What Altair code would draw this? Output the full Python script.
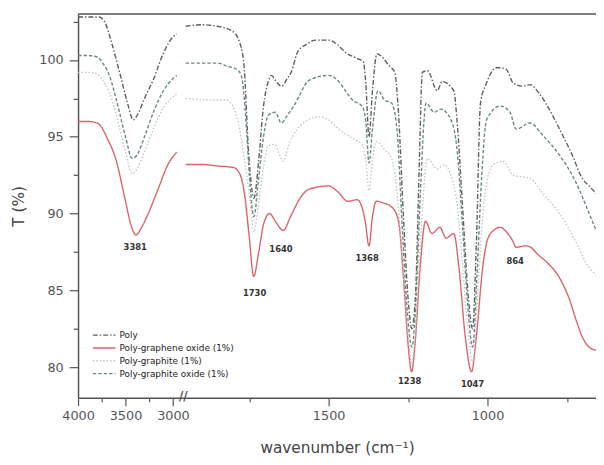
import altair as alt
import pandas as pd

# ---------------- data ----------------
SERIES = ["Poly", "Poly-graphene oxide (1%)", "Poly-graphite (1%)", "Poly-graphite oxide (1%)"]
COLORS = ["#5e5e5e", "#d9646f", "#c4c4c4", "#6a8a7e"]
DASHES = [[5, 2, 1.5, 2], [1, 0], [1.5, 2], [3.5, 2]]

# left section (4000 - 2960 cm-1)
POLY_L_WN = [4000, 3900, 3780, 3720, 3650, 3550, 3470, 3420, 3360, 3300, 3208, 3104, 3000, 2960]
POLY_L_T = [102.8, 102.8, 102.8, 102.5, 101.2, 98.9, 97.0, 96.1, 96.6, 97.5, 98.7, 100.4, 101.5, 101.7]
GO_L_WN = [4000, 3900, 3800, 3750, 3700, 3600, 3500, 3440, 3390, 3340, 3260, 3156, 3052, 2960]
GO_L_T = [96.0, 96.0, 95.9, 95.6, 95.0, 93.5, 90.8, 89.2, 88.6, 89.0, 90.0, 91.6, 93.2, 94.0]
GT_L_WN = [4000, 3900, 3800, 3740, 3670, 3600, 3500, 3430, 3380, 3300, 3200, 3100, 3000, 2960]
GT_L_T = [99.2, 99.2, 99.1, 98.7, 97.9, 96.5, 94.0, 92.6, 92.9, 94.0, 95.6, 96.9, 97.6, 97.8]
GTO_L_WN = [4000, 3900, 3800, 3740, 3670, 3600, 3500, 3430, 3380, 3300, 3200, 3100, 3000, 2960]
GTO_L_T = [100.3, 100.3, 100.2, 99.8, 99.0, 97.5, 95.0, 93.6, 93.8, 95.0, 96.7, 98.0, 98.8, 99.0]

# right section (1950 - 658 cm-1)
POLY_R_WN = [1950, 1900, 1850, 1804, 1783, 1767, 1752, 1735, 1720, 1705, 1690, 1680, 1665, 1649,
             1630, 1618, 1596, 1571, 1540, 1500, 1472, 1447, 1410, 1391, 1383, 1373, 1362, 1348,
             1308, 1292, 1280, 1265, 1250, 1238, 1226, 1215, 1205, 1189, 1158, 1143, 1106, 1096,
             1080, 1062, 1047, 1035, 1022, 1003, 972, 960, 941, 919, 890, 866, 840, 817, 773,
             733, 702, 680, 658]
POLY_R_T = [102.2, 102.3, 102.2, 101.9, 101.3, 99.8, 94.0, 91.0, 93.5, 97.0, 98.6, 99.0, 98.6, 98.3,
            98.8, 99.2, 100.6, 101.0, 101.3, 101.3, 101.0, 100.5, 100.1, 99.9, 98.5, 95.0, 98.0, 100.4,
            99.6, 99.2, 96.5, 90.0, 84.5, 82.5, 85.0, 93.0, 99.2, 99.3, 98.0, 98.6, 98.0, 96.1,
            91.0, 85.0, 82.5, 88.0, 97.2, 98.5, 99.5, 99.5, 99.4, 98.5, 98.3, 98.4, 97.9, 97.2, 95.5,
            93.8, 92.3, 91.8, 91.3]
GO_R_WN = [1950, 1900, 1850, 1800, 1780, 1765, 1750, 1736, 1720, 1705, 1686, 1665, 1643, 1620,
           1590, 1560, 1500, 1470, 1440, 1410, 1395, 1385, 1373, 1362, 1350, 1330, 1300, 1280,
           1265, 1250, 1239, 1228, 1212, 1195, 1175, 1150, 1130, 1106, 1090, 1070, 1050, 1035,
           1015, 1000, 981, 960, 940, 920, 910, 880, 864, 840, 817, 773, 740, 720, 700, 680, 658]
GO_R_T = [93.2, 93.2, 93.1, 93.0, 92.6, 91.3, 88.5, 85.9, 87.5, 89.3, 90.0, 89.4, 88.9, 89.8,
          91.0, 91.6, 91.8, 91.4, 90.8, 90.9, 90.4, 89.5, 87.9, 89.8, 90.8, 90.7, 90.4, 89.5,
          86.0, 81.5, 79.7, 81.5, 86.5, 89.5, 88.7, 89.1, 88.4, 88.7, 86.5, 82.0, 79.7, 82.0,
          86.5, 88.3, 88.9, 89.1, 88.8, 88.2, 87.8, 87.9, 87.8, 87.3, 86.9, 85.8, 84.3, 83.0, 81.9, 81.3, 81.1]
GT_R_WN = [1950, 1850, 1825, 1805, 1785, 1765, 1748, 1735, 1722, 1705, 1690, 1670, 1643, 1625,
           1580, 1530, 1500, 1468, 1425, 1395, 1383, 1373, 1362, 1350, 1325, 1300, 1283, 1265,
           1250, 1238, 1226, 1210, 1189, 1158, 1137, 1115, 1095, 1078, 1062, 1047, 1033, 1018,
           1000, 981, 950, 919, 866, 826, 773, 723, 690, 658]
GT_R_T = [97.5, 97.4, 97.4, 97.1, 96.0, 93.5, 91.0, 88.8, 90.5, 93.0, 94.4, 94.5, 93.4, 94.5,
          95.9, 96.3, 96.1, 95.5, 94.9, 94.5, 93.5, 91.5, 93.5, 94.7, 94.2, 93.5, 91.0, 86.0,
          82.0, 80.3, 82.5, 88.5, 93.6, 92.9, 93.2, 92.5, 90.5, 86.5, 82.5, 80.3, 84.0, 89.0,
          92.3, 93.2, 93.4, 92.5, 92.3, 91.3, 90.0, 88.2, 86.8, 86.0]
GTO_R_WN = [1950, 1850, 1820, 1790, 1775, 1760, 1748, 1735, 1722, 1705, 1690, 1668, 1649, 1630,
            1610, 1560, 1500, 1468, 1447, 1425, 1395, 1383, 1373, 1362, 1345, 1324, 1302, 1285,
            1268, 1252, 1238, 1226, 1212, 1193, 1168, 1147, 1115, 1095, 1078, 1062, 1047, 1033,
            1018, 1003, 960, 929, 910, 866, 826, 773, 723, 680, 658]
GTO_R_T = [99.8, 99.8, 99.6, 99.4, 99.0, 96.0, 92.0, 89.8, 92.0, 95.0, 96.4, 96.6, 95.9, 96.4,
           97.0, 98.7, 99.0, 98.6, 98.0, 97.4, 97.0, 96.0, 93.3, 95.5, 98.0, 97.4, 97.2, 95.5,
           89.0, 83.5, 81.3, 84.0, 91.0, 97.2, 96.6, 96.8, 96.1, 94.0, 89.0, 84.0, 81.3, 86.0,
           92.5, 96.1, 97.0, 96.6, 95.5, 95.9, 95.1, 93.8, 92.1, 90.0, 88.9]

PEAK_LABELS = ["3381", "1730", "1640", "1368", "1238", "1047", "864"]
PEAK_LABEL_WN = [3397, 1733, 1650, 1379, 1245, 1047, 913]
PEAK_LABEL_T = [87.8, 84.8, 87.7, 87.1, 79.1, 78.9, 86.9]

X_TICKS = [4000, 3750, 3500, 3250, 3000, 1750, 1500, 1250, 1000, 750]
Y_TICKS = [80, 82.5, 85, 87.5, 90, 92.5, 95, 97.5, 100, 102.5]
Y_DOMAIN = [78, 103]
BREAK_LEFT_END = 2960
BREAK_RIGHT_START = 1950


# broken-axis transform (left section compressed)
def brk(wn):
    return (4000 - wn) * 0.0962 if wn > 2500 else 254 + (1500 - wn) * 0.322


W_EXPR = "(datum.value <= 100 ? 4000 - datum.value / 0.0962 : 1500 - (datum.value - 254) / 0.322)"

rows = []
series_data = [
    (POLY_L_WN, POLY_L_T, POLY_R_WN, POLY_R_T),
    (GO_L_WN, GO_L_T, GO_R_WN, GO_R_T),
    (GT_L_WN, GT_L_T, GT_R_WN, GT_R_T),
    (GTO_L_WN, GTO_L_T, GTO_R_WN, GTO_R_T),
]
for name, (lw, lt, rw, rt) in zip(SERIES, series_data):
    for w, t in zip(lw, lt):
        rows.append({"series": name, "seg": name + "L", "pos": brk(w), "T": t})
    for w, t in zip(rw, rt):
        rows.append({"series": name, "seg": name + "R", "pos": brk(w), "T": t})
df = pd.DataFrame(rows)

labels_df = pd.DataFrame({"label": PEAK_LABELS,
                          "pos": [brk(w) for w in PEAK_LABEL_WN],
                          "T": PEAK_LABEL_T})
break_df = pd.DataFrame({"pos": [(brk(BREAK_LEFT_END) + brk(BREAK_RIGHT_START)) / 2 + 2],
                         "T": [Y_DOMAIN[0]], "txt": ["//"]})
top_df = pd.DataFrame({"T": [Y_DOMAIN[1]]})

xscale = alt.Scale(domain=[0, 525], nice=False, zero=False)
yscale = alt.Scale(domain=Y_DOMAIN, nice=False, zero=False)

x_axis = alt.Axis(
    values=[brk(w) for w in X_TICKS],
    labelExpr=f"round({W_EXPR}) % 500 === 0 ? format(round({W_EXPR}), 'd') : ''",
    tickSize={"condition": {"test": f"round({W_EXPR}) % 500 === 0", "value": 8}, "value": 4},
    title="wavenumber (cm\u207b\u00b9)",
    labelPadding=4,
    titlePadding=18,
    labelFlush=False,
    labelOverlap=False,
)
y_axis = alt.Axis(
    values=Y_TICKS,
    labelExpr="datum.value % 5 === 0 ? datum.label : ''",
    tickSize={"condition": {"test": "datum.value % 5 === 0", "value": 9}, "value": 5},
    title="T (%)",
    labelPadding=6,
    titlePadding=12,
    labelOverlap=False,
)

legend = alt.Legend(
    title=None, orient="none", legendX=14, legendY=319,
    symbolType="stroke", symbolSize=529, symbolStrokeWidth=1.4,
    labelFontSize=9, labelFont="DejaVu Sans", labelColor="#222", labelOffset=3,
    clipHeight=13, rowPadding=0, padding=0,
)

lines = alt.Chart(df).mark_line(strokeWidth=1.4, interpolate="monotone").encode(
    x=alt.X("pos:Q", scale=xscale, axis=x_axis),
    y=alt.Y("T:Q", scale=yscale, axis=y_axis),
    color=alt.Color("series:N", scale=alt.Scale(domain=SERIES, range=COLORS), legend=legend),
    strokeDash=alt.StrokeDash("series:N", scale=alt.Scale(domain=SERIES, range=DASHES), legend=legend),
    detail="seg:N",
)

peak_text = alt.Chart(labels_df).mark_text(
    fontSize=8.5, fontWeight="bold", color="#333", font="DejaVu Sans", baseline="middle"
).encode(x=alt.X("pos:Q", scale=xscale), y=alt.Y("T:Q", scale=yscale), text="label:N")

break_mark = alt.Chart(break_df).mark_text(
    fontSize=12, fontWeight="bold", color="#555", font="DejaVu Sans", baseline="middle", dy=-2
).encode(x=alt.X("pos:Q", scale=xscale), y=alt.Y("T:Q", scale=yscale), text="txt:N")

top_rule = alt.Chart(top_df).mark_rule(color="#555", strokeWidth=1.5).encode(
    y=alt.Y("T:Q", scale=yscale)
)

chart = alt.layer(lines, peak_text, top_rule, break_mark).properties(
    width=525, height=389,
    autosize=alt.AutoSizeParams(type="none"),
    padding={"left": 71, "top": 3, "right": 0, "bottom": 60},
).configure_view(stroke=None).configure_axis(
    grid=False, domainColor="#555", domainWidth=1.5, tickColor="#555", tickWidth=1.2,
    labelColor="#555", labelFont="DejaVu Sans", labelFontSize=13,
    titleFont="DejaVu Sans", titleFontSize=15.5, titleFontWeight="normal", titleColor="#444",
)

chart.save("out.html", embed_options={"renderer": "svg", "actions": False})
